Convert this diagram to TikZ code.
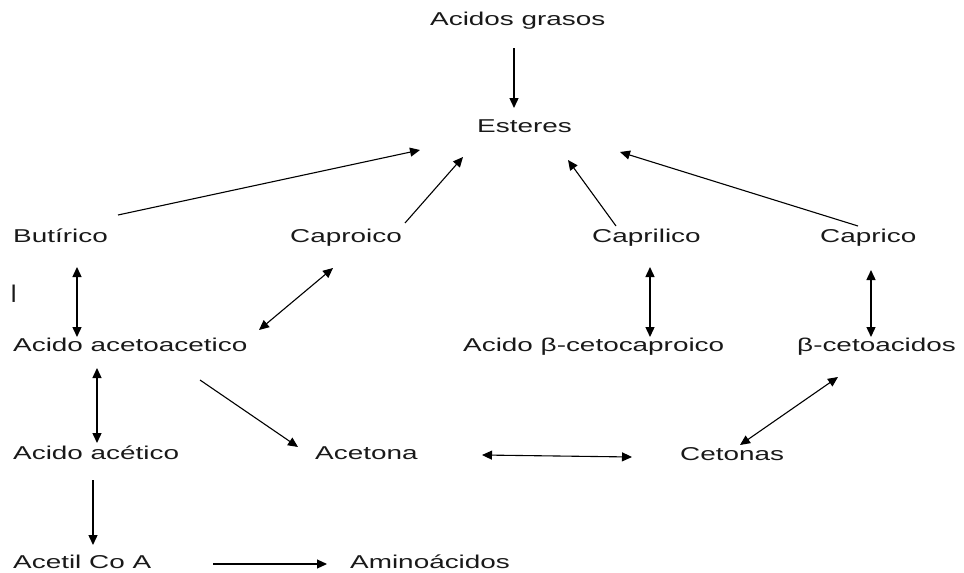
\documentclass[tikz,border=0pt]{standalone}
\usepackage{fontspec}
\setmainfont{Liberation Sans}[FakeStretch=1.5]
\usetikzlibrary{arrows.meta}
\begin{document}
\begin{tikzpicture}[x=1pt,y=-1pt,
  lbl/.style={inner sep=0pt,anchor=base west,font=\fontsize{18.6}{22}\selectfont,text=black!90},
  arr/.style={line width=1.4pt,-{Triangle[length=10pt,width=9pt]}},
  darr/.style={line width=1.4pt,{Triangle[length=10pt,width=9pt]}-{Triangle[length=10pt,width=9pt]}},
  tarr/.style={line width=1.1pt,-{Triangle[length=10pt,width=9pt]}},
  tdarr/.style={line width=1.1pt,{Triangle[length=10pt,width=9pt]}-{Triangle[length=10pt,width=9pt]}}]
\useasboundingbox (0,0) rectangle (964,573);
\node[lbl] (ag)  at (430,25)  {Acidos grasos};
\node[lbl] (est) at (477,132) {Esteres};
\node[lbl] (but) at (13,242)  {Butírico};
\node[lbl] (cpo) at (290,242) {Caproico};
\node[lbl] (cpl) at (592,242) {Caprilico};
\node[lbl] (cpc) at (820,242) {Caprico};
\node[lbl] (bar) at (10,298)  {|};
\node[lbl] (aac) at (13,351)  {Acido acetoacetico};
\node[lbl] (abc) at (463,351) {Acido β-cetocaproico};
\node[lbl] (bca) at (797,351) {β-cetoacidos};
\node[lbl] (aat) at (13,459)  {Acido acético};
\node[lbl] (acn) at (315,459) {Acetona};
\node[lbl] (cet) at (680,460) {Cetonas};
\node[lbl] (aco) at (13,568)  {Acetil Co A};
\node[lbl] (ami) at (350,568) {Aminoácidos};
% connectors
\draw[arr]   ([shift={(84,23)}]ag.base west)   -- ([shift={(37,-24)}]est.base west);
\draw[tarr]  ([shift={(105,-27)}]but.base west) -- ([shift={(-57,18)}]est.base west);
\draw[tarr]  ([shift={(115,-19)}]cpo.base west) -- ([shift={(-14,25)}]est.base west);
\draw[tarr]  ([shift={(24,-16)}]cpl.base west)  -- ([shift={(91,28)}]est.base west);
\draw[tarr]  ([shift={(38,-16)}]cpc.base west)  -- ([shift={(143,20)}]est.base west);
\draw[darr]  ([shift={(64,25)}]but.base west)   -- ([shift={(64,-14)}]aac.base west);
\draw[tdarr] ([shift={(43,26)}]cpo.base west)   -- ([shift={(246,-21)}]aac.base west);
\draw[darr]  ([shift={(58,25)}]cpl.base west)   -- ([shift={(187,-14)}]abc.base west);
\draw[darr]  ([shift={(51,28)}]cpc.base west)   -- ([shift={(74,-14)}]bca.base west);
\draw[darr]  ([shift={(84,17)}]aac.base west)   -- ([shift={(84,-16)}]aat.base west);
\draw[tarr]  ([shift={(187,29)}]aac.base west)  -- ([shift={(-17,-12)}]acn.base west);
\draw[tdarr] ([shift={(167,-4)}]acn.base west)  -- ([shift={(-48,-3)}]cet.base west);
\draw[tdarr] ([shift={(41,26)}]bca.base west)   -- ([shift={(60,-15)}]cet.base west);
\draw[arr]   ([shift={(80,21)}]aat.base west)   -- ([shift={(80,-23)}]aco.base west);
\draw[tarr]  ([shift={(200,-4)}]aco.base west)  -- ([shift={(-23,-4)}]ami.base west);
\end{tikzpicture}
\end{document}
